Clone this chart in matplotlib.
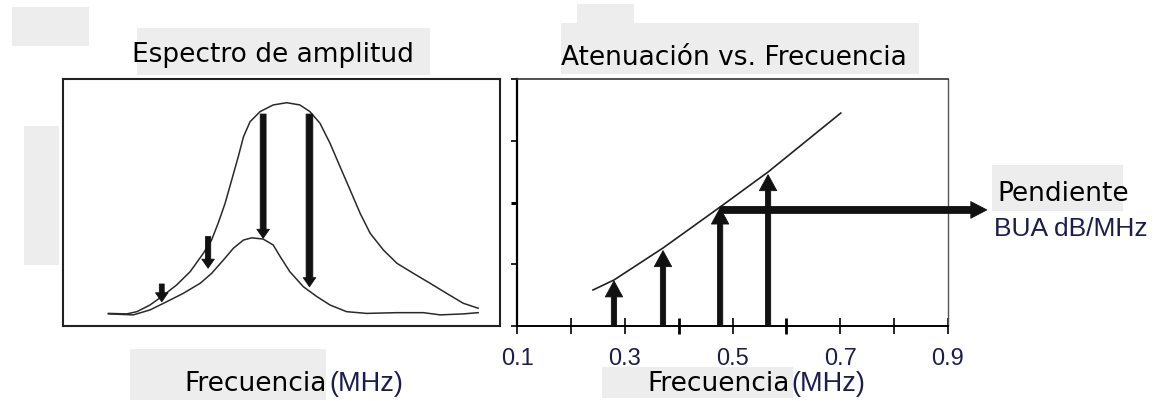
import numpy as np
import matplotlib
matplotlib.use('Agg')
from matplotlib import pyplot as plt
from matplotlib.patches import Rectangle, FancyArrowPatch

W, H = 1173, 401

# left panel: amplitude spectra (arbitrary units, 0..100)
freq_up = [10.4, 14.6, 16.9, 19.9, 22.6, 26.0, 29.1, 32.1, 34.0, 35.5, 37.1, 38.6,
           40.1, 41.3, 42.8, 45.1, 48.1, 51.2, 54.2, 56.5, 58.8, 61.1, 63.4, 65.7,
           68.0, 70.3, 73.3, 76.4, 80.2, 84.0, 87.8, 91.6, 95.0]
amp_up = [5.1, 4.9, 5.8, 8.5, 11.9, 16.6, 22.0, 29.4, 34.8, 41.6, 49.7, 59.1,
          68.5, 76.6, 82.7, 86.8, 89.5, 90.4, 89.5, 86.8, 82.1, 74.0, 64.5, 55.1,
          45.6, 37.5, 30.8, 25.4, 21.3, 17.3, 13.2, 9.2, 7.2]
freq_lo = [10.4, 16.1, 19.9, 23.7, 27.5, 31.4, 34.0, 36.7, 39.0, 41.3, 43.2, 45.8,
           48.1, 49.7, 51.9, 55.0, 58.1, 61.1, 64.9, 69.5, 76.4, 82.5, 86.3, 91.6, 95.0]
amp_lo = [4.9, 4.5, 6.5, 9.8, 13.2, 17.3, 21.3, 26.7, 31.5, 34.8, 35.7, 35.2,
          32.8, 28.1, 22.0, 15.9, 11.9, 8.5, 5.8, 5.1, 5.4, 5.4, 4.5, 4.9, 5.4]
down_x = [22.6, 33.2, 45.8, 56.4]
down_top = [17.0, 36.2, 85.8, 85.8]
down_tip = [9.8, 23.4, 35.5, 15.9]

# right panel: attenuation vs frequency
fit_f = [0.241, 0.280, 0.371, 0.477, 0.566, 0.701]
fit_att = [0.583, 0.745, 1.263, 1.927, 2.494, 3.449]
att_f = [0.280, 0.371, 0.477, 0.566]
att_val = [0.73, 1.22, 1.91, 2.45]
bua_y = 1.88
xticks = [0.1, 0.2, 0.3, 0.4, 0.5, 0.6, 0.7, 0.8, 0.9]
xlabels = ['0.1', '', '0.3', '', '0.5', '', '0.7', '', '0.9']
yticks = [0, 1, 2, 3, 4]

navy = '#1c1d4e'
grey = '#ededed'

fig = plt.figure(figsize=(W/100, H/100), dpi=100)

# placeholder grey boxes (x0, y0, x1, y1 in pixels from top-left)
boxes = [(12, 7, 89, 46), (137, 28, 430, 75), (24, 126, 59, 265), (130, 349, 326, 400),
         (577, 4, 634, 23), (561, 23, 919, 74), (992, 165, 1123, 211), (602, 367, 793, 398)]
for x0, y0, x1, y1 in boxes:
    fig.add_artist(Rectangle((x0/W, 1-y1/H), (x1-x0)/W, (y1-y0)/H,
                             transform=fig.transFigure, color=grey, lw=0, zorder=0))

def px(x, y):
    return x/W, 1-y/H

def arrow(ax, p0, p1, tail, head_w, head_l, clip=True):
    a = FancyArrowPatch(p0, p1, arrowstyle='simple,head_width=%g,head_length=%g,tail_width=%g'
                        % (head_w, head_l, tail), mutation_scale=10, color='#111111',
                        lw=0.6, shrinkA=0, shrinkB=0, clip_on=clip, zorder=3)
    ax.add_patch(a)

# left panel
ax1 = fig.add_axes([63/W, 1-326/H, 437/W, 247/H])
ax1.plot(freq_up, amp_up, color='#2a2a2a', lw=1.1)
ax1.plot(freq_lo, amp_lo, color='#2a2a2a', lw=1.1)
tails = [0.35, 0.38, 0.42, 0.48]
for x, y0, y1, t in zip(down_x, down_top, down_tip, tails):
    arrow(ax1, (x, y0), (x, y1), t, 0.9, 0.65)
ax1.set_xlim(0, 100)
ax1.set_ylim(0, 100)
ax1.set_xticks([])
ax1.set_yticks([])
for s in ax1.spines.values():
    s.set_linewidth(1.5)
    s.set_color('#222222')

# right panel
ax2 = fig.add_axes([517/W, 1-326/H, 431/W, 247/H])
ax2.plot(fit_f, fit_att, color='#222222', lw=1.2)
for x, y in zip(att_f, att_val):
    arrow(ax2, (x, 0), (x, y), 0.38, 1.25, 1.15)
arrow(ax2, (att_f[2], bua_y), (0.972, bua_y), 0.5, 1.2, 1.15, clip=False)
ax2.set_xlim(0.1, 0.9)
ax2.set_ylim(0, 4)
ax2.set_xticks(xticks)
ax2.set_xticklabels(xlabels, family='Liberation Sans', fontsize=17, color=navy)
ax2.set_yticks(yticks)
ax2.set_yticklabels([])
ax2.tick_params(axis='x', direction='inout', length=12, width=1.2, pad=10)
ax2.tick_params(axis='y', direction='out', length=4, width=1.2)
ax2.yaxis.get_major_ticks()[2].tick1line.set_markeredgewidth(2.2)
for i in (3, 5):
    ax2.xaxis.get_major_ticks()[i].tick1line.set_markeredgewidth(2)
ax2.spines['left'].set_linewidth(1.6)
ax2.spines['bottom'].set_linewidth(1.4)
ax2.spines['top'].set_linewidth(1.2)
ax2.spines['right'].set_linewidth(1.0)
ax2.spines['top'].set_color('#333333')
ax2.spines['right'].set_color('#555555')

# texts
fig.text(*px(273, 62), 'Espectro de amplitud', fontsize=19, ha='center', va='baseline')
fig.text(*px(734, 65), 'Atenuación vs. Frecuencia', fontsize=19, ha='center', va='baseline')
fig.text(*px(327, 391), 'Frecuencia', fontsize=19, ha='right', va='baseline')
fig.text(*px(329, 391), '(MHz)', fontsize=19.5, ha='left', va='baseline',
         family='Liberation Sans', color=navy)
fig.text(*px(790, 391), 'Frecuencia', fontsize=19, ha='right', va='baseline')
fig.text(*px(791, 391), '(MHz)', fontsize=19.5, ha='left', va='baseline',
         family='Liberation Sans', color=navy)
fig.text(*px(997, 201), 'Pendiente', fontsize=19, ha='left', va='baseline')
fig.text(*px(994, 236), 'BUA dB/MHz', fontsize=19, ha='left', va='baseline',
         family='Liberation Sans', color=navy)

fig.savefig('out.png', dpi=100)
